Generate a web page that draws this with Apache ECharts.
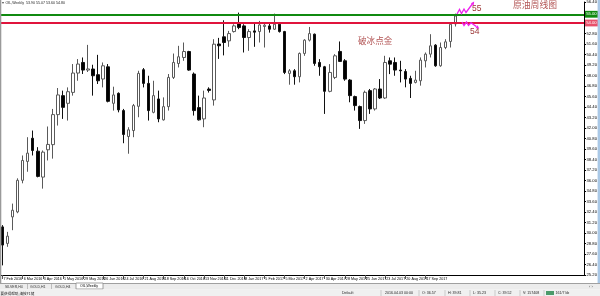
<!DOCTYPE html>
<html><head><meta charset="utf-8">
<script src="https://cdn.jsdelivr.net/npm/echarts@6.0.0/dist/echarts.min.js"></script>
<style>html,body{margin:0;padding:0;background:#fff;}#c{width:600px;height:296px;}</style>
</head><body><div id="c"></div>
<script>
// ---- data ----
const tickLabels = ['7 Feb 2016','6 Mar 2016','3 Apr 2016','1 May 2016','29 May 2016','26 Jun 2016','24 Jul 2016','21 Aug 2016','18 Sep 2016','16 Oct 2016','13 Nov 2016','11 Dec 2016','8 Jan 2017','5 Feb 2017','5 Mar 2017','2 Apr 2017','30 Apr 2017','28 May 2017','25 Jun 2017','23 Jul 2017','20 Aug 2017','17 Sep 2017','15 Oct 2017'];
const opens = [30.70,28.81,31.84,32.41,36.02,38.18,40.83,39.35,36.39,39.51,
40.10,43.53,45.70,44.82,46.07,48.28,49.49,48.62,48.74,48.09,
47.60,48.99,44.82,45.96,43.99,41.03,41.71,44.48,48.66,47.10,
43.79,45.32,42.93,44.44,47.78,49.37,50.06,50.74,48.17,44.33,
43.04,46.45,45.21,51.60,52.42,51.96,53.02,53.93,53.67,52.34,
53.10,53.02,53.60,53.67,53.29,53.86,53.02,48.24,48.54,47.86,
50.52,52.04,52.72,49.49,49.00,46.19,47.78,50.75,49.68,47.48,
45.59,44.45,42.85,46.27,44.18,46.46,45.43,49.68,49.49,48.62,
48.46,47.67,47.21,47.40,49.68,50.44,51.47,49.11,51.20,51.89,
53.90];
const highs = [30.90,30.13,33.36,36.25,38.86,40.95,41.71,39.81,39.43,42.17,
44.18,46.57,46.27,46.64,49.31,49.88,50.06,51.50,49.23,50.36,
49.49,49.31,46.72,46.07,44.18,42.09,44.75,48.54,48.85,47.97,
47.40,46.27,45.50,48.17,50.51,51.39,51.77,50.82,48.35,45.70,
46.27,46.65,52.15,52.30,54.31,53.10,53.86,55.19,53.86,53.29,
54.05,54.24,53.90,53.90,55.07,54.05,53.10,48.73,48.73,50.63,
52.15,53.55,52.79,49.87,49.10,49.30,50.44,51.89,49.87,47.59,
45.70,44.56,46.27,46.46,46.57,47.59,50.25,50.06,50.06,49.68,
48.73,47.97,48.54,50.06,50.63,52.72,51.58,51.77,52.15,53.93,
55.07];
const lows = [26.30,28.42,30.32,32.26,35.68,37.00,38.86,36.36,35.07,38.29,
38.50,42.28,43.04,42.85,45.70,47.40,48.17,48.40,45.70,47.03,
46.64,44.93,43.99,43.79,40.26,39.06,40.95,43.23,46.64,42.85,
43.68,42.66,42.85,43.99,47.60,48.92,49.68,48.54,43.42,42.85,
42.09,46.05,44.56,49.90,50.30,51.28,52.91,53.29,50.63,50.82,
51.28,51.77,51.20,52.90,53.20,52.91,48.16,46.95,46.95,47.21,
50.25,51.89,49.11,47.97,43.61,46.08,47.59,49.55,47.40,44.94,
43.99,41.90,42.47,43.61,43.99,45.32,45.32,48.16,47.97,47.21,
46.65,45.43,47.10,46.84,48.92,50.06,49.00,49.00,51.01,51.20,
53.60];
const closes = [28.62,29.64,32.60,36.02,38.29,39.13,39.43,36.47,39.24,40.12,
43.53,45.78,44.36,46.15,48.28,49.31,48.62,48.75,47.97,47.40,
49.11,45.05,45.78,44.07,41.26,41.79,44.56,48.24,47.10,43.99,
45.70,43.04,44.44,47.78,49.49,50.14,50.74,48.62,43.99,42.93,
45.43,46.30,51.58,51.40,51.77,52.79,53.67,53.48,52.34,53.02,
52.95,53.78,53.75,53.29,53.86,53.02,48.35,48.54,47.86,50.52,
52.04,52.79,49.38,49.00,46.19,48.35,50.25,49.61,47.59,45.70,
44.56,42.85,46.08,44.18,46.46,45.43,49.49,49.30,48.62,48.54,
47.59,47.10,47.48,49.76,50.44,51.39,49.11,51.20,51.85,53.86,
54.80];
const levelValues = [55.00, 54.00];
const lastPrice = 54.80;
const yMin = 25.2, yMax = 56.4, yStep = 1.2;
const slotCount = 116;      // weekly slots shown on the axis (incl. empty right margin)
const weeksPerLabel = 4;

// ---- build ----
const isLabeled = i => i % weeksPerLabel === 0 && i / weeksPerLabel < tickLabels.length;
const categories = [];
for (let i = 0; i < slotCount; i++) categories.push(isLabeled(i) ? tickLabels[i / weeksPerLabel] : 'w' + i);
const ohlc = opens.map((o, i) => [o, closes[i], lows[i], highs[i]]);

const FF = 'Liberation Sans, Arial, sans-serif';
const CJK = 'Noto Sans CJK SC, sans-serif';
const tag = (txt, bg) => ({show:true, position:'end', distance:1, formatter:txt, color:'#fff', backgroundColor:bg,
  fontSize:4.2, fontFamily:FF, padding:[1.6,1.2,1.2,1.2]});

const chart = echarts.init(document.getElementById('c'), null, {renderer:'canvas'});
const t = (text, x, y, size, color, extra) => Object.assign({type:'text', z:100, style:Object.assign({text, x, y, fill:color, fontSize:size, fontFamily:FF, verticalAlign:'middle'}, extra||{})});

chart.setOption({
  animation:false,
  backgroundColor:'#ffffff',
  grid:{left:0, right:15, top:1, bottom:21},
  xAxis:{type:'category', data:categories, boundaryGap:true,
    axisLine:{lineStyle:{color:'#000', width:1}},
    axisTick:{show:true, alignWithLabel:true, length:4, interval:(i)=>isLabeled(i), lineStyle:{color:'#555'}},
    axisLabel:{interval:(i)=>isLabeled(i), formatter:(v,i)=>isLabeled(i)?v:'', fontSize:3.7, color:'#000',
      align:'left', margin:1.5, padding:[0,0,0,1], fontFamily:FF},
    splitLine:{show:false}},
  yAxis:{type:'value', position:'right', min:yMin, max:yMax, interval:yStep,
    axisLine:{show:true, lineStyle:{color:'#000'}}, axisTick:{show:true, length:2, lineStyle:{color:'#000'}},
    axisLabel:{fontSize:4.2, color:'#000', margin:2.5, fontFamily:FF, formatter:v=>v.toFixed(2)},
    splitLine:{show:false}},
  series:[{type:'candlestick', data:ohlc, barWidth:3,
    itemStyle:{color:'#ffffff', color0:'#000000', borderColor:'#5a5a5a', borderColor0:'#111111', borderColorDoji:'#333333', borderWidth:1},
    markLine:{symbol:['none','none'], silent:true, animation:false,
      data:[
        {yAxis:lastPrice, lineStyle:{opacity:0, width:0}, label:tag(lastPrice.toFixed(2), '#000')},
        {yAxis:levelValues[0], lineStyle:{color:'#108a10', width:2, type:'solid'}, label:tag(levelValues[0].toFixed(2), '#108a10')},
        {yAxis:levelValues[1], lineStyle:{color:'#e0143c', width:2, type:'solid'}, label:tag(levelValues[1].toFixed(2), '#e8506a')}
      ]}
  }],
  graphic:{elements:[
    {type:'rect', z:100, shape:{x:0, y:0, width:1.3, height:283}, style:{fill:'#9a9a9a'}},
    {type:'rect', z:100, shape:{x:597.6, y:0, width:2.4, height:283}, style:{fill:'#aac8e6'}},
    // title
    {type:'polygon', z:100, shape:{points:[[1.8,2.2],[4.2,2.2],[3,3.8]]}, style:{fill:'#333'}},
    t('OIL,Weekly  53.90 55.07 53.60 54.80', 5.5, 3.2, 3.6, '#222'),
    // annotations
    Object.assign(t('原油周线图', 513, 4.5, 9, '#b25454'), {style:{text:'原油周线图', x:513, y:4.8, fill:'#b25454', fontSize:8.8, fontFamily:CJK, verticalAlign:'middle'}}),
    {type:'text', z:100, style:{text:'破冰点金', x:358, y:41, fill:'#b25454', fontSize:8.6, fontFamily:CJK, verticalAlign:'middle'}},
    t('55', 472, 8.5, 8.5, '#9b3535'),
    t('54', 470, 31.8, 8.5, '#9b3535'),
    {type:'polyline', z:100, shape:{points:[[457,14],[459.5,9.5],[461.5,13.5],[464,9],[466,12.5],[472.3,4]]}, style:{stroke:'#ee22ee', lineWidth:1.3, fill:null}},
    {type:'polygon', z:100, shape:{points:[[474.2,1.6],[473.6,5.4],[470.9,3.3]]}, style:{fill:'#ee22ee'}},
    {type:'polyline', z:100, shape:{points:[[462,22],[464,25.5],[466.5,22],[468.5,25.5],[471,22.8],[476.5,26.6]]}, style:{stroke:'#ee22ee', lineWidth:1.3, fill:null}},
    {type:'polygon', z:100, shape:{points:[[479.2,28.4],[475.5,28.3],[477.6,25.2]]}, style:{fill:'#ee22ee'}},
    // tab bar
    {type:'rect', z:100, shape:{x:0, y:283, width:600, height:6.5}, style:{fill:'#ececec'}},
    {type:'line', z:100, shape:{x1:0, y1:283.5, x2:600, y2:283.5}, style:{stroke:'#a0a0a0', lineWidth:1}},
    {type:'rect', z:100, shape:{x:76, y:283, width:27, height:6}, style:{fill:'#ffffff', stroke:'#8a8a8a', lineWidth:0.8}},
    t('SILVER,H4', 5, 286.6, 3.5, '#333'),
    t('GOLD,H1', 30, 286.6, 3.5, '#333'),
    t('GOLD,H4', 55, 286.6, 3.5, '#333'),
    t('OIL,Weekly', 80, 286.4, 3.5, '#000'),
    {type:'line', z:100, shape:{x1:27.5, y1:284, x2:27.5, y2:289}, style:{stroke:'#b0b0b0', lineWidth:0.8}},
    {type:'line', z:100, shape:{x1:51.5, y1:284, x2:51.5, y2:289}, style:{stroke:'#b0b0b0', lineWidth:0.8}},
    t('‹ ›', 589, 286.4, 4, '#555'),
    // status bar
    {type:'rect', z:100, shape:{x:0, y:289.5, width:600, height:6.5}, style:{fill:'#f0f0f0'}},
    {type:'text', z:100, style:{text:'要获得帮助,请按F1键', x:0.5, y:293.2, fill:'#222', fontSize:3.6, fontFamily:CJK, verticalAlign:'middle'}},
    t('Default', 342, 293.2, 3.6, '#222'),
    t('2016.04.03 00:00', 385, 293.2, 3.6, '#222'),
    t('O: 36.57', 422, 293.2, 3.6, '#222'),
    t('H: 39.81', 448, 293.2, 3.6, '#222'),
    t('L: 35.23', 473, 293.2, 3.6, '#222'),
    t('C: 39.52', 498, 293.2, 3.6, '#222'),
    t('V: 157408', 523, 293.2, 3.6, '#222'),
    {type:'rect', z:100, shape:{x:546, y:291, width:8, height:4}, style:{fill:'#4c9a6a'}},
    t('161/7 kb', 555.5, 293.2, 3.6, '#222'),
    {type:'line', z:100, shape:{x1:381, y1:290, x2:381, y2:296}, style:{stroke:'#c0c0c0', lineWidth:0.8}},
    {type:'line', z:100, shape:{x1:419, y1:290, x2:419, y2:296}, style:{stroke:'#c0c0c0', lineWidth:0.8}},
    {type:'line', z:100, shape:{x1:445, y1:290, x2:445, y2:296}, style:{stroke:'#c0c0c0', lineWidth:0.8}},
    {type:'line', z:100, shape:{x1:470, y1:290, x2:470, y2:296}, style:{stroke:'#c0c0c0', lineWidth:0.8}},
    {type:'line', z:100, shape:{x1:495, y1:290, x2:495, y2:296}, style:{stroke:'#c0c0c0', lineWidth:0.8}},
    {type:'line', z:100, shape:{x1:520, y1:290, x2:520, y2:296}, style:{stroke:'#c0c0c0', lineWidth:0.8}},
    {type:'line', z:100, shape:{x1:544, y1:290, x2:544, y2:296}, style:{stroke:'#c0c0c0', lineWidth:0.8}}
  ]}
});
</script>
</body></html>
